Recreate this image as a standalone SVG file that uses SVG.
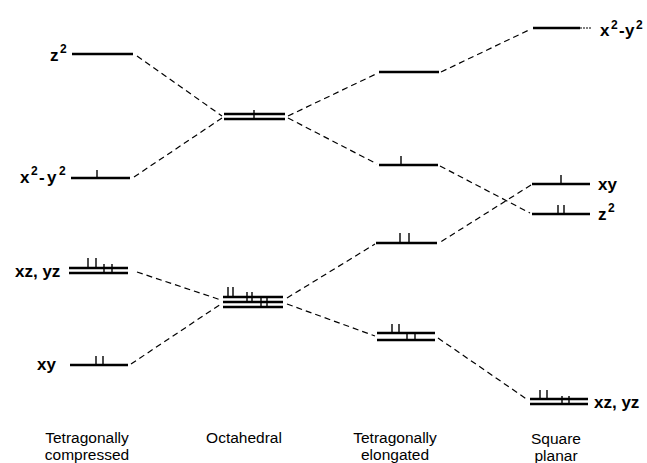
<svg xmlns="http://www.w3.org/2000/svg" width="647" height="463" viewBox="0 0 647 463">
<style>
.lvl{stroke:#000;stroke-width:2.4;fill:none}
.e{stroke:#000;stroke-width:1.4;fill:none}
.dash{stroke:#000;stroke-width:1.2;stroke-dasharray:6 4;fill:none}
.lab{font-family:"Liberation Sans",Arial,sans-serif;font-weight:bold;font-size:17px;fill:#000}
.sup{font-size:12px}
.cap{font-family:"Liberation Sans",Arial,sans-serif;font-size:15.5px;text-anchor:middle;fill:#000}
</style>
<rect width="647" height="463" fill="#fff"/>
<g id="connectors">
<line class="dash" x1="137" y1="56" x2="222" y2="116"/>
<line class="dash" x1="134" y1="177" x2="222" y2="118"/>
<line class="dash" x1="288" y1="116" x2="378" y2="73"/>
<line class="dash" x1="288" y1="118" x2="377" y2="164"/>
<line class="dash" x1="441" y1="72" x2="531" y2="29"/>
<line class="dash" x1="440" y1="166" x2="530" y2="213"/>
<line class="dash" x1="531" y1="185" x2="439" y2="243"/>
<line class="dash" x1="137" y1="272" x2="221" y2="300"/>
<line class="dash" x1="131" y1="364" x2="221" y2="304"/>
<line class="dash" x1="287" y1="298" x2="375" y2="244"/>
<line class="dash" x1="287" y1="304" x2="375" y2="336"/>
<line class="dash" x1="438" y1="338" x2="528" y2="400"/>
</g>
<g id="comp-z2">
<line class="lvl" x1="72" y1="54" x2="133" y2="54"/>
<text class="lab"><tspan x="50" y="61">z</tspan><tspan class="sup" x="60" y="53">2</tspan></text>
</g>
<g id="comp-x2y2">
<line class="lvl" x1="71" y1="178" x2="130" y2="178"/>
<line class="e" x1="97" y1="170" x2="97" y2="178"/>
<text class="lab"><tspan x="20" y="183">x</tspan><tspan class="sup" x="31" y="175">2</tspan><tspan x="39" y="183">-</tspan><tspan x="47" y="183">y</tspan><tspan class="sup" x="59" y="175">2</tspan></text>
</g>
<g id="comp-xzyz">
<line class="lvl" x1="69" y1="268" x2="128" y2="268"/>
<line class="lvl" x1="69" y1="273" x2="128" y2="273"/>
<line class="e" x1="88" y1="258" x2="88" y2="268"/>
<line class="e" x1="96" y1="258" x2="96" y2="268"/>
<line class="e" x1="104" y1="264" x2="104" y2="273"/>
<line class="e" x1="112" y1="264" x2="112" y2="273"/>
<text class="lab" x="15" y="277">xz, yz</text>
</g>
<g id="comp-xy">
<line class="lvl" x1="70" y1="365" x2="128" y2="365"/>
<line class="e" x1="96" y1="356" x2="96" y2="365"/>
<line class="e" x1="103" y1="356" x2="103" y2="365"/>
<text class="lab" x="37" y="370">xy</text>
</g>
<g id="oct-eg">
<line class="lvl" x1="224" y1="114" x2="285" y2="114"/>
<line class="lvl" x1="224" y1="119" x2="285" y2="119"/>
<line class="e" x1="254" y1="110" x2="254" y2="119"/>
</g>
<g id="oct-t2g">
<line class="lvl" x1="223" y1="297" x2="283" y2="297"/>
<line class="lvl" x1="223" y1="302" x2="283" y2="302"/>
<line class="lvl" x1="223" y1="307" x2="283" y2="307"/>
<line class="e" x1="228" y1="287" x2="228" y2="297"/>
<line class="e" x1="233" y1="287" x2="233" y2="297"/>
<line class="e" x1="247" y1="292" x2="247" y2="302"/>
<line class="e" x1="252" y1="292" x2="252" y2="302"/>
<line class="e" x1="261" y1="297" x2="261" y2="307"/>
<line class="e" x1="267" y1="297" x2="267" y2="307"/>
</g>
<g id="elo-x2y2">
<line class="lvl" x1="379" y1="72" x2="439" y2="72"/>
</g>
<g id="elo-z2">
<line class="lvl" x1="379" y1="165" x2="438" y2="165"/>
<line class="e" x1="401" y1="156" x2="401" y2="165"/>
</g>
<g id="elo-xy">
<line class="lvl" x1="376" y1="243" x2="437" y2="243"/>
<line class="e" x1="400" y1="233" x2="400" y2="243"/>
<line class="e" x1="409" y1="233" x2="409" y2="243"/>
</g>
<g id="elo-xzyz">
<line class="lvl" x1="377" y1="333" x2="435" y2="333"/>
<line class="lvl" x1="377" y1="340" x2="435" y2="340"/>
<line class="e" x1="392" y1="324" x2="392" y2="333"/>
<line class="e" x1="399" y1="324" x2="399" y2="333"/>
<line class="e" x1="407" y1="332" x2="407" y2="340"/>
<line class="e" x1="415" y1="332" x2="415" y2="340"/>
</g>
<g id="sp-x2y2">
<line class="lvl" x1="533" y1="28" x2="580" y2="28"/>
<line stroke="#000" stroke-width="1.2" stroke-dasharray="2 1" x1="580" y1="28" x2="591" y2="28"/>
<text class="lab"><tspan x="600" y="36">x</tspan><tspan class="sup" x="611" y="29">2</tspan><tspan x="619" y="36">-</tspan><tspan x="625" y="36">y</tspan><tspan class="sup" x="636" y="29">2</tspan></text>
</g>
<g id="sp-xy">
<line class="lvl" x1="532" y1="184" x2="590" y2="184"/>
<line class="e" x1="561" y1="175" x2="561" y2="184"/>
<text class="lab" x="598" y="190">xy</text>
</g>
<g id="sp-z2">
<line class="lvl" x1="532" y1="214" x2="590" y2="214"/>
<line class="e" x1="558" y1="205" x2="558" y2="214"/>
<line class="e" x1="564" y1="205" x2="564" y2="214"/>
<text class="lab"><tspan x="598" y="220">z</tspan><tspan class="sup" x="608" y="212">2</tspan></text>
</g>
<g id="sp-xzyz">
<line class="lvl" x1="530" y1="399" x2="588" y2="399"/>
<line class="lvl" x1="530" y1="404" x2="588" y2="404"/>
<line class="e" x1="540" y1="390" x2="540" y2="399"/>
<line class="e" x1="547" y1="390" x2="547" y2="399"/>
<line class="e" x1="562" y1="396" x2="562" y2="404"/>
<line class="e" x1="569" y1="396" x2="569" y2="404"/>
<text class="lab" x="594" y="408">xz, yz</text>
</g>
<g id="captions">
<text class="cap" x="87" y="443">Tetragonally</text>
<text class="cap" x="87" y="460">compressed</text>
<text class="cap" x="244" y="443">Octahedral</text>
<text class="cap" x="395" y="443">Tetragonally</text>
<text class="cap" x="395" y="460">elongated</text>
<text class="cap" x="556" y="444">Square</text>
<text class="cap" x="556" y="461">planar</text>
</g>
</svg>
